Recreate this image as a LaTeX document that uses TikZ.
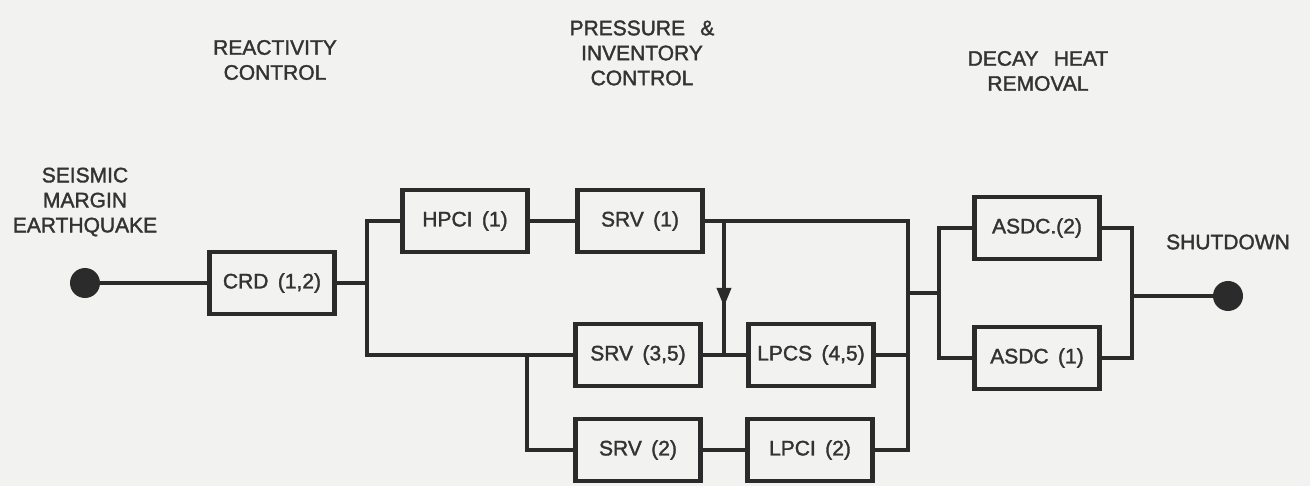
\documentclass[tikz,border=0pt]{standalone}
\usepackage{fontspec}
\setmainfont{Liberation Sans}
\newfontfamily\diagfont{Liberation Sans}[FakeBold=1.6]
\usetikzlibrary{arrows.meta,decorations.markings}
\definecolor{bgc}{HTML}{F2F2F0}
\definecolor{ink}{HTML}{2B2B2B}
\definecolor{txt}{HTML}{333333}
\newcommand{\bgap}{\hspace{0.45em}}
\begin{document}
\begin{tikzpicture}[x=1pt,y=-1pt,
  font=\diagfont\fontsize{21}{25}\selectfont,
  sysbox/.style={draw=ink, line width=4.5pt, minimum width=125pt, minimum height=62pt, inner sep=0pt, text=txt},
  wire/.style={draw=ink, line width=4pt},
  lbl/.style={align=center, text=txt},
  enddot/.style={circle, fill=ink, minimum size=30pt, inner sep=0pt}]
\fill[bgc] (0,0) rectangle (1310,486);
\useasboundingbox (0,0) rectangle (1310,486);

% headers
\node[lbl] (hreac) at (275,60) {REACTIVITY\\CONTROL};
\node[lbl] (hpres) at (642,53) {PRESSURE \bgap\&\\INVENTORY\\CONTROL};
\node[lbl] (hdecay) at (1038,71) {DECAY \bgap HEAT\\REMOVAL};
\node[lbl] (hseis) at (85,202) {SEISMIC\\MARGIN\\EARTHQUAKE};
\node[lbl] (hshut) at (1228,242) {SHUTDOWN};

% end dots
\node[enddot] (dotL) at (85,283) {};
\node[enddot] (dotR) at (1228,296) {};

% boxes
\node[sysbox] (CRD) at (272,283) {CRD\bgap(1,2)};
\node[sysbox] (HPCI) at (465,221) {HPCI\bgap(1)};
\node[sysbox] (SRVa) at (640,221) {SRV\bgap(1)};
\node[sysbox] (SRVc) at (638,355) {SRV\bgap(3,5)};
\node[sysbox] (LPCS) at (811,355) {LPCS\bgap(4,5)};
\node[sysbox] (SRVb) at (638,450) {SRV\bgap(2)};
\node[sysbox] (LPCI) at (810,450) {LPCI\bgap(2)};
\node[sysbox] (ASDCb) at (1037,228) {ASDC.(2)};
\node[sysbox] (ASDCa) at (1037,358) {ASDC\bgap(1)};

% junctions
\coordinate (b1) at (367,283);
\coordinate (b2) at (527,355);
\coordinate (b3) at (908,293);
\coordinate (b4) at (939,293);
\coordinate (b5) at (1132,296);
\coordinate (j1) at (724,221);
\coordinate (j2) at (724,355);

% connectors
\draw[wire] (dotL) -- (CRD.west);
\draw[wire] (CRD.east) -- (b1);
\draw[wire] (HPCI.west) -| (b1) |- (SRVc.west);
\draw[wire] (HPCI.east) -- (SRVa.west);
\draw[wire] (b2) |- (SRVb.west);
\draw[wire] (SRVb.east) -- (LPCI.west);
\draw[wire] (SRVc.east) -- (LPCS.west);
\draw[wire] (SRVa.east) -| (b3) |- (LPCI.east);
\draw[wire] (LPCS.east) -- (LPCS.east -| b3);
\draw[wire, postaction={decorate}, decoration={markings, mark=at position 0.64 with {\arrow[ink]{Triangle[length=19pt,width=14pt]}}}] (j1) -- (j2);
\draw[wire] (b3) -- (b4);
\draw[wire] (ASDCb.west) -| (b4) |- (ASDCa.west);
\draw[wire] (ASDCb.east) -| (b5) |- (ASDCa.east);
\draw[wire] (b5) -- (dotR);
\end{tikzpicture}
\end{document}
